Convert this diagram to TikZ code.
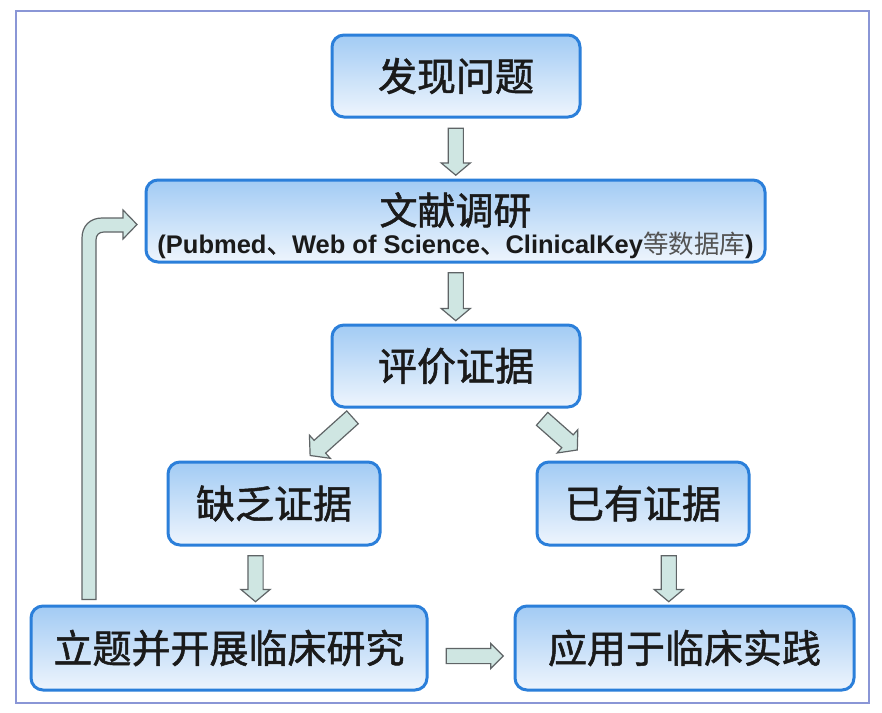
\documentclass[tikz,border=0pt]{standalone}
\usepackage{fontspec}
\setmainfont{Liberation Sans}
\newfontfamily\cjk{Noto Sans CJK SC}[FakeBold=1.3]
\newfontfamily\cjklight{Noto Sans CJK SC}
\usetikzlibrary{shapes.arrows,calc}
\definecolor{boxborder}{HTML}{2B7FDA}
\definecolor{boxtop}{HTML}{A2CBF4}
\definecolor{boxbot}{HTML}{EEF5FD}
\definecolor{arrfill}{HTML}{CFE6E2}
\definecolor{arrline}{HTML}{5F6466}
\definecolor{framecol}{HTML}{8A96D6}
\definecolor{txt}{HTML}{1A1A1A}
\begin{document}
\begin{tikzpicture}[x=1pt,y=-1pt,
  box/.style={draw=boxborder, line width=3pt, rounded corners=12pt,
    top color=boxtop, bottom color=boxbot, inner sep=0pt, text=txt,
    font=\cjk\fontsize{39}{39}\selectfont},
  barrow/.style={single arrow, draw=arrline, fill=arrfill, line width=1.2pt,
    inner xsep=0pt, inner ysep=#1, minimum width=0pt,
    single arrow head extend=7pt, single arrow tip angle=100,
    single arrow head indent=0pt},
  barrow/.default=7pt,
  lbl/.style={text=txt, inner sep=0pt}
]
\useasboundingbox (0,0) rectangle (882,712);
\fill[white] (0,0) rectangle (882,712);
\draw[framecol, line width=1.5pt] (16,11) rectangle (869,703);

\node[box, minimum width=248pt, minimum height=82pt] (q) at (456,76) {发现问题};
\node[box, minimum width=619pt, minimum height=82pt] (lit) at (455.5,221) {};
\node[lbl, font=\cjk\fontsize{38}{38}\selectfont] (littitle) at (455.5,210) {文献调研};
\node[lbl, font=\bfseries\fontsize{25.5}{25.5}\selectfont] (litsub) at (455.5,245)
  {(Pubmed{\cjk\mdseries 、}Web of Science{\cjk\mdseries 、}ClinicalKey{\cjklight\mdseries\color{txt!75}等数据库})};
\node[box, minimum width=248pt, minimum height=82pt] (ev) at (456,366) {评价证据};
\node[box, minimum width=212pt, minimum height=83pt] (lack) at (274,503.5) {缺乏证据};
\node[box, minimum width=212pt, minimum height=83pt] (have) at (643,503.5) {已有证据};
\node[box, minimum width=396pt, minimum height=84pt] (res) at (229,648) {立题并开展临床研究};
\node[box, minimum width=339pt, minimum height=84pt] (app) at (684.5,648) {应用于临床实践};

\node[barrow, rotate=-90, minimum height=47pt] (a1) at ($(q.south)!0.5!(lit.north)$) {};
\node[barrow, rotate=-90, minimum height=48pt] (a2) at ($(lit.south)!0.5!(ev.north)$) {};
\node[barrow=8pt, rotate=222, minimum height=57pt] (a3) at (334,434) {};
\node[barrow=8pt, rotate=-41.5, minimum height=47pt] (a4) at (557,432) {};
\node[barrow, rotate=-90, minimum height=46pt] (a5) at ($(lack.south)!0.5!(res.north)+(4,0)$) {};
\node[barrow, rotate=-90, minimum height=46pt] (a6) at ($(have.south)!0.5!(app.north)+(5,0)$) {};
\node[barrow, single arrow head extend=5pt, single arrow tip angle=90, minimum height=57pt] (a7) at ($(res.east)!0.5!(app.west)+(0,8)$) {};

\coordinate (fbstart) at ($(res.north -| 82,0)+(0,-5)$);
\coordinate (fbend) at ($(res.north -| 96,0)+(0,-5)$);
\draw[arrline, fill=arrfill, line width=1.2pt]
  (fbstart) -- (82,238) .. controls (82,226) and (90,218) .. (102,218)
  -- (123,218) -- (123,210) -- (137,224.5) -- (123,239) -- (123,232)
  -- (104,232) .. controls (99,232) and (96,235) .. (96,240)
  -- (fbend) -- cycle;
\end{tikzpicture}
\end{document}
